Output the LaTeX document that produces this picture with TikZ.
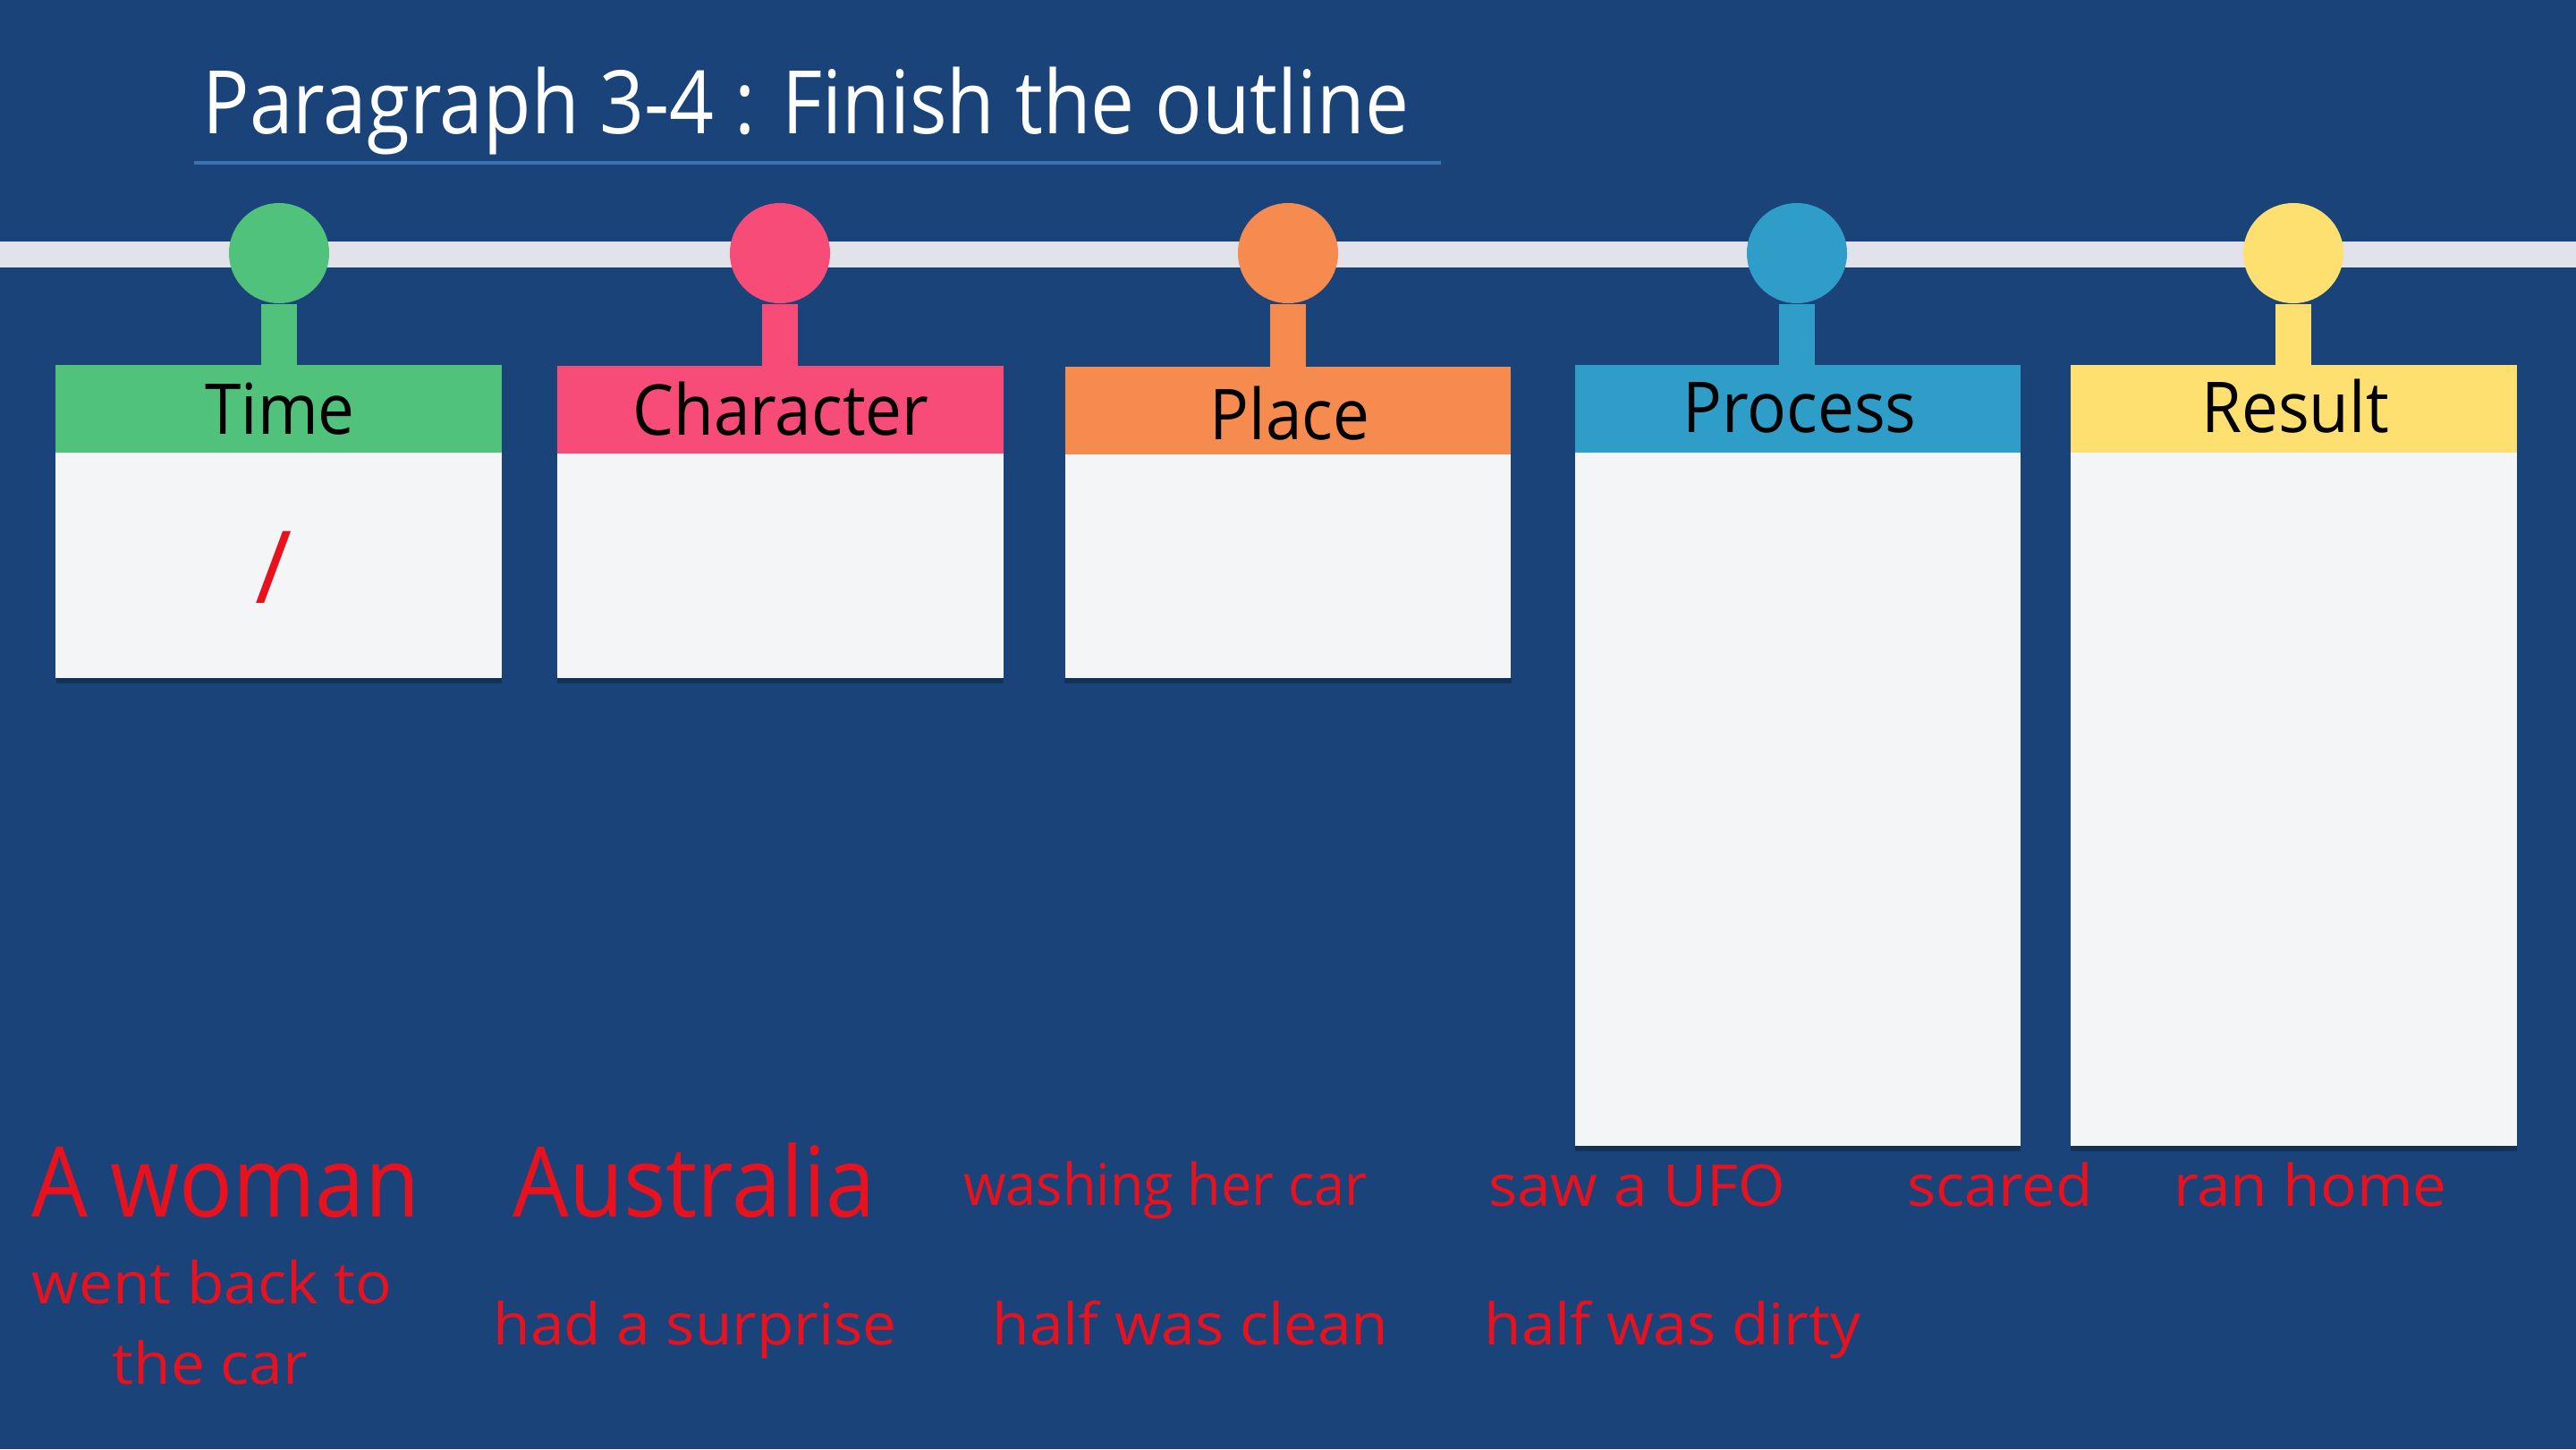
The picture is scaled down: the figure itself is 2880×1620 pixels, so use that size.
\documentclass[tikz,border=0pt]{standalone}
\usepackage{fontspec}
\setmainfont{Open Sans}
\newfontfamily\titlefont[FakeStretch=0.89]{Open Sans}
\newfontfamily\hdrfont[FakeStretch=0.93]{Open Sans}
\newfontfamily\bigfont[FakeStretch=0.91]{Open Sans}
\newfontfamily\smallfont[FakeStretch=1.05]{Open Sans}
\newfontfamily\washfont[FakeStretch=0.95]{Open Sans}
\definecolor{bgblue}{RGB}{26,67,122}
\definecolor{railgray}{RGB}{226,226,234}
\definecolor{lineblue}{RGB}{60,114,176}
\definecolor{cgreen}{RGB}{80,194,124}
\definecolor{cpink}{RGB}{248,76,120}
\definecolor{corange}{RGB}{246,139,79}
\definecolor{cblue}{RGB}{46,157,200}
\definecolor{cyellow}{RGB}{254,224,112}
\definecolor{bodywhite}{RGB}{244,245,247}
\definecolor{ansred}{RGB}{232,18,30}
\tikzset{
  hdr/.style={rectangle, inner sep=0pt, minimum width=4.98cm, minimum height=0.97cm},
  bodybox/.style={rectangle, inner sep=0pt, fill=bodywhite, minimum width=4.98cm},
  pin/.style={circle, inner sep=0pt, minimum size=1.12cm},
  stem/.style={line width=0.4cm},
  hdrlabel/.style={anchor=base, inner sep=0pt, text=black, font=\hdrfont\fontsize{22.3}{26}\selectfont},
  bigans/.style={anchor=base, inner sep=0pt, text=ansred, font=\bigfont\fontsize{31}{36}\selectfont},
  smallans/.style={anchor=base, inner sep=0pt, text=ansred, font=\smallfont\fontsize{18.3}{22}\selectfont},
  washans/.style={anchor=base, inner sep=0pt, text=ansred, font=\washfont\fontsize{18.3}{22}\selectfont},
  shadowbox/.style={fill=black, opacity=0.25}
}
\begin{document}
\begin{tikzpicture}[x=0.01cm,y=-0.01cm]
\fill[bgblue] (0,0) rectangle (2880,1620);
\useasboundingbox (0,0) rectangle (2880,1620);
% title
\node[anchor=base west, inner sep=0pt, text=white, font=\titlefont\fontsize{27.9}{33}\selectfont] (title) at (226,149) {Paragraph 3-4 : Finish the outline};
\coordinate (ulA) at (217,182);
\coordinate (ulB) at (1611,182);
\draw[lineblue, line width=0.04cm] (ulA) -- (ulB);
% rail
\coordinate (railL) at (0,284);
\coordinate (railR) at (2880,284);
\draw[railgray, line width=0.29cm] (railL) -- (railR);
% shadows
\fill[shadowbox] (63,758) rectangle (561,764);
\fill[shadowbox] (623,758) rectangle (1122,764);
\fill[shadowbox] (1190,758) rectangle (1690,764);
\fill[shadowbox] (1761,1281) rectangle (2259,1287);
\fill[shadowbox] (2315,1281) rectangle (2814,1287);
% bodies
\node[bodybox, minimum height=2.53cm] (b1) at (311.5,631.5) {};
\node[bodybox, minimum height=2.53cm] (b2) at (872.5,631.5) {};
\node[bodybox, minimum height=2.53cm] (b3) at (1440,631.5) {};
\node[bodybox, minimum height=7.76cm] (b4) at (2010,893) {};
\node[bodybox, minimum height=7.76cm] (b5) at (2564.5,893) {};
% headers
\node[hdr, fill=cgreen] (h1) at (311.5,457) {};
\node[hdr, fill=cpink] (h2) at (872.5,458) {};
\node[hdr, fill=corange] (h3) at (1440,459) {};
\node[hdr, fill=cblue] (h4) at (2010,457) {};
\node[hdr, fill=cyellow] (h5) at (2564.5,457) {};
% pins
\node[pin, fill=cgreen] (p1) at (312,283) {};
\node[pin, fill=cpink] (p2) at (872,283) {};
\node[pin, fill=corange] (p3) at (1440,283) {};
\node[pin, fill=cblue] (p4) at (2009,283) {};
\node[pin, fill=cyellow] (p5) at (2564,283) {};
\draw[stem, cgreen] (p1.south) -- (h1.north -| p1);
\draw[stem, cpink] (p2.south) -- (h2.north -| p2);
\draw[stem, corange] (p3.south) -- (h3.north -| p3);
\draw[stem, cblue] (p4.south) -- (h4.north -| p4);
\draw[stem, cyellow] (p5.south) -- (h5.north -| p5);
% header labels
\node[hdrlabel] (l1) at (313,485) {Time};
\node[hdrlabel] (l2) at (873,486) {Character};
\node[hdrlabel] (l3) at (1442,491) {Place};
\node[hdrlabel] (l4) at (2012,483) {Process};
\node[hdrlabel] (l5) at (2566,483) {Result};
% slash
\node[inner sep=0pt, text=ansred, font=\fontsize{32}{36}\selectfont] (slash) at (306,634) {/};
% answers
\node[bigans] (a1) at (252,1360) {A woman};
\node[bigans] (a2) at (776,1360) {Australia};
\node[washans] (a3) at (1303,1347) {washing her car};
\node[smallans] (a4) at (1830,1348) {saw a UFO};
\node[smallans] (a5) at (2236,1348) {scared};
\node[smallans] (a6) at (2583,1348) {ran home};
\node[smallans] (a7) at (237,1457) {went back to};
\node[smallans] (a8) at (235,1547) {the car};
\node[smallans] (a9) at (777,1503) {had a surprise};
\node[smallans] (a10) at (1331,1503) {half was clean};
\node[smallans] (a11) at (1870,1503) {half was dirty};
\end{tikzpicture}
\end{document}
